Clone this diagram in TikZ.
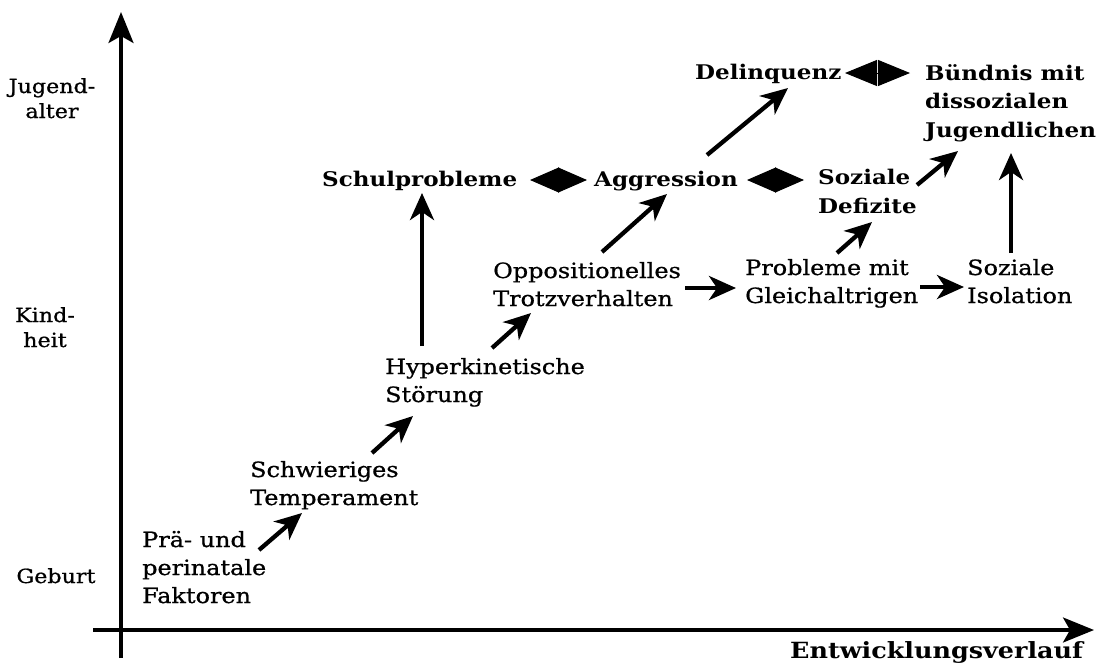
\documentclass[tikz,border=0pt]{standalone}
\usepackage{fontspec}
\setmainfont{DejaVu Serif}[FakeStretch=1.14]
\newfontfamily\medfont{DejaVu Serif}[FakeStretch=1.14,FakeBold=0.8]
\usetikzlibrary{arrows.meta}
\begin{document}
\begin{tikzpicture}[x=1pt,y=-1pt,
  lbl/.style={anchor=base west,align=left,inner sep=0pt,font=\medfont\fontsize{21}{28}\selectfont},
  blbl/.style={lbl,font=\fontsize{20.2}{28.5}\selectfont\bfseries},
  clbl/.style={anchor=base,align=center,inner sep=0pt,font=\medfont\fontsize{19.5}{25}\selectfont},
  arr/.style={line width=4.3pt,-{Stealth[length=27pt,width=24pt,inset=8pt]}},
  darr/.style={line width=1pt,{Triangle[length=29pt,width=25pt]}-{Triangle[length=29pt,width=25pt]}},
  axis/.style={line width=3.2pt,-{Stealth[length=31pt,width=25pt,inset=7pt]}}]
\useasboundingbox (0,0) rectangle (1099,662);
% axes
\coordinate (ybot) at (121,658);
\coordinate (ytop) at (121,12);
\coordinate (xl) at (93,630);
\coordinate (xr) at (1094,630);
\draw[axis] (ybot) -- (ytop);
\draw[axis] (xl) -- (xr);
% axis labels
\node[clbl] (jug) at (52,118) {Jugend-\\alter};
\node[clbl] (kind) at (45,347) {Kind-\\heit};
\node[clbl] (geb) at (56,583) {Geburt};
\node[lbl,font=\fontsize{22.3}{28}\selectfont\bfseries] (entw) at (790,658) {Entwicklungsverlauf};
% nodes
\node[lbl] (prae) at (142,603) {Prä- und\\perinatale\\Faktoren};
\node[lbl] (schw) at (250,505) {Schwieriges\\Temperament};
\node[lbl] (hyp) at (385,402) {Hyperkinetische\\Störung};
\node[lbl] (opp) at (493,306) {Oppositionelles\\Trotzverhalten};
\node[lbl] (prob) at (745,303) {Probleme mit\\Gleichaltrigen};
\node[lbl] (iso) at (967,303) {Soziale\\Isolation};
\node[blbl] (schul) at (322,186) {Schulprobleme};
\node[blbl] (aggr) at (594,186) {Aggression};
\node[blbl] (def) at (818,213) {Soziale\\Defizite};
\node[blbl] (del) at (695,79) {Delinquenz};
\node[blbl] (bund) at (925,137) {Bündnis mit\\dissozialen\\Jugendlichen};
% connector ends
\coordinate (a1s) at (259,550); \coordinate (a1e) at (302,513);
\coordinate (a2s) at (372,453); \coordinate (a2e) at (413,416);
\coordinate (a3s) at (422,346); \coordinate (a3e) at (422,193);
\coordinate (a4s) at (492,348); \coordinate (a4e) at (531,313);
\coordinate (a5s) at (602,252); \coordinate (a5e) at (667,194);
\coordinate (a6s) at (707,155); \coordinate (a6e) at (788,88);
\coordinate (a7s) at (685,288); \coordinate (a7e) at (736,288);
\coordinate (a8s) at (837,253); \coordinate (a8e) at (872,222);
\coordinate (a9s) at (920,287); \coordinate (a9e) at (964,287);
\coordinate (a10s) at (917,185); \coordinate (a10e) at (958,151);
\coordinate (a11s) at (1011,253); \coordinate (a11e) at (1011,153);
\coordinate (d1s) at (530,180); \coordinate (d1e) at (587,180);
\coordinate (d2s) at (747,180); \coordinate (d2e) at (804,180);
\coordinate (d3s) at (845,73); \coordinate (d3e) at (910,73);
\draw[arr] (a1s) -- (a1e);
\draw[arr] (a2s) -- (a2e);
\draw[arr] (a3s) -- (a3e);
\draw[arr] (a4s) -- (a4e);
\draw[arr] (a5s) -- (a5e);
\draw[arr] (a6s) -- (a6e);
\draw[arr] (a7s) -- (a7e);
\draw[arr] (a8s) -- (a8e);
\draw[arr] (a9s) -- (a9e);
\draw[arr] (a10s) -- (a10e);
\draw[arr] (a11s) -- (a11e);
\draw[darr] (d1s) -- (d1e);
\draw[darr] (d2s) -- (d2e);
\draw[darr,{Triangle[length=32pt,width=26pt]}-{Triangle[length=32pt,width=26pt]}] (d3s) -- (d3e);
\end{tikzpicture}
\end{document}
